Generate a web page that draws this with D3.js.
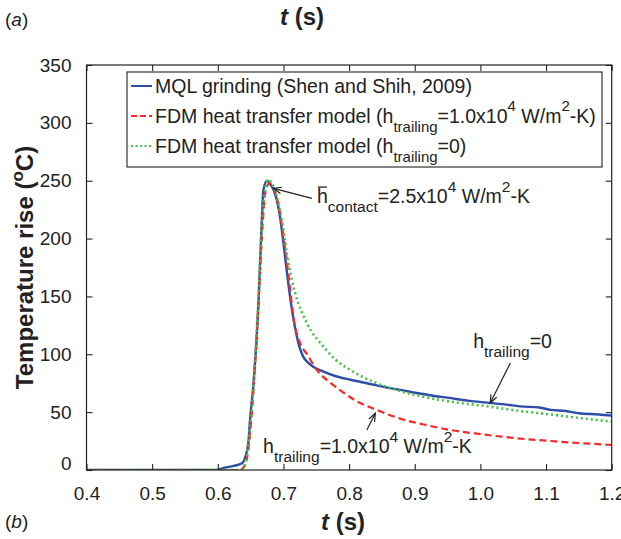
<!DOCTYPE html>
<html>
<head>
<meta charset="utf-8">
<script src="https://cdn.jsdelivr.net/npm/d3@7"></script>
<style>
  html, body { margin: 0; padding: 0; background: #fff; }
  svg { display: block; }
  text { font-family: "Liberation Sans", Arial, Helvetica, sans-serif; fill: #222; }
</style>
</head>
<body>
<svg id="chart" width="621" height="539"></svg>
<script>
// ---------------- DATA ----------------
const xTicks = [0.4, 0.5, 0.6, 0.7, 0.8, 0.9, 1.0, 1.1, 1.2];
const xTickLabels = ["0.4", "0.5", "0.6", "0.7", "0.8", "0.9", "1.0", "1.1", "1.2"];
const yTicks = [0, 50, 100, 150, 200, 250, 300, 350];
const yTickLabels = ["0", "50", "100", "150", "200", "250", "300", "350"];

// MQL grinding (Shen and Shih, 2009) - measured
const mqlTime = [0.4, 0.5, 0.598, 0.61, 0.624, 0.637, 0.642, 0.647, 0.649, 0.654, 0.662, 0.667, 0.6695, 0.675, 0.68, 0.685, 0.69, 0.695, 0.70, 0.705, 0.710, 0.718, 0.724, 0.73, 0.738, 0.746, 0.761, 0.78, 0.802, 0.827, 0.86, 0.88, 0.903, 0.93, 0.95, 0.98, 1.015, 1.04, 1.06, 1.09, 1.107, 1.13, 1.15, 1.18, 1.2];
const mqlTemp = [0, 0, 0, 2, 3.5, 5.8, 11.5, 26, 43, 72, 144, 216, 242, 250, 247, 242, 233, 218, 196, 172, 150, 122, 107, 98, 92.5, 89, 85, 81, 78, 75, 71, 69, 66.5, 64, 62.5, 60, 58, 56.5, 55, 54, 52, 51, 49, 48, 47];

// FDM model, h_trailing = 1.0e4 W/m2-K
const fdmTime = [0.4, 0.6, 0.634, 0.64, 0.645, 0.65, 0.655, 0.662, 0.668, 0.673, 0.679, 0.685, 0.692, 0.700, 0.708, 0.715, 0.7255, 0.736, 0.751, 0.77, 0.786, 0.81, 0.842, 0.88, 0.92, 0.954, 1.0, 1.056, 1.12, 1.2];
const fdmTemp = [0, 0, 0, 3, 12, 37, 75, 145, 210, 242, 248, 244, 230, 201.6, 167, 132.5, 109.5, 100, 86.4, 76, 69.1, 60, 51.9, 44, 38.5, 34.6, 31, 27.4, 24.5, 21.6];

// FDM model, h_trailing = 0
const fdm0Time = [0.4, 0.6, 0.634, 0.64, 0.642, 0.645, 0.649, 0.655, 0.662, 0.668, 0.673, 0.677, 0.683, 0.690, 0.6975, 0.7076, 0.718, 0.7357, 0.761, 0.78, 0.802, 0.842, 0.87, 0.903, 0.95, 1.015, 1.06, 1.107, 1.15, 1.2];
const fdm0Temp = [0, 0, 0, 2, 7, 17, 37, 80, 150, 220, 245, 251, 247, 236, 216, 178.6, 152.7, 126.8, 106.6, 95, 86.4, 75, 69.5, 64.5, 59.5, 54.7, 51, 48, 45, 41.8];

const seriesColors = ["#2c4ea6", "#f42a2a", "#44c044"];

// ---------------- LAYOUT ----------------
const svg = d3.select("#chart");
const pL = 86.5, pR = 611.7, pT = 65, pB = 470;
const x = d3.scaleLinear().domain([0.4, 1.2]).range([pL, pR]);
const y = d3.scaleLinear().domain([0, 350]).range([pB, pT]);

const FONT = "Liberation Sans, Arial, Helvetica, sans-serif";

function richText(g, xPos, yPos, segs, size, subSize, subDy, supDy) {
  const t = g.append("text").attr("x", xPos).attr("y", yPos)
    .style("font-size", size + "px").style("font-family", FONT);
  let cur = 0;
  segs.forEach(([s, k]) => {
    const target = k === "sub" ? subDy : (k === "sup" ? supDy : 0);
    t.append("tspan")
      .attr("dy", target - cur)
      .style("font-size", (k === "n" ? size : subSize) + "px")
      .text(s);
    cur = target;
  });
  return t;
}

svg.append("clipPath").attr("id", "clip").append("rect")
  .attr("x", pL).attr("y", pT - 2).attr("width", pR - pL).attr("height", pB - pT + 2);

const plot = svg.append("g").attr("clip-path", "url(#clip)");

const mqlData = mqlTime.map((t, i) => [t, mqlTemp[i]]);
const fdmData = fdmTime.map((t, i) => [t, fdmTemp[i]]);
const fdm0Data = fdm0Time.map((t, i) => [t, fdm0Temp[i]]);
const curveLine = d3.line().x(d => x(d[0])).y(d => y(d[1])).curve(d3.curveMonotoneX);

plot.append("path").datum(mqlData).attr("d", curveLine)
  .attr("fill", "none").attr("stroke", seriesColors[0]).attr("stroke-width", 2.4);
plot.append("path").datum(fdmData).attr("d", curveLine)
  .attr("fill", "none").attr("stroke", seriesColors[1]).attr("stroke-width", 2.2)
  .attr("stroke-dasharray", "7,4");
plot.append("path").datum(fdm0Data).attr("d", curveLine)
  .attr("fill", "none").attr("stroke", seriesColors[2]).attr("stroke-width", 2.6)
  .attr("stroke-dasharray", "2,3");

svg.append("rect").attr("x", pL).attr("y", pT).attr("width", pR - pL).attr("height", pB - pT)
  .attr("fill", "none").attr("stroke", "#222").attr("stroke-width", 1.2);

const tickLen = 6;
const xAxisB = d3.axisBottom(x).tickValues(xTicks).tickSizeInner(-tickLen).tickSizeOuter(0).tickFormat((d, i) => xTickLabels[i]).tickPadding(tickLen + 11);
const gxb = svg.append("g").attr("transform", `translate(0,${pB})`).call(xAxisB);
const xAxisT = d3.axisTop(x).tickValues(xTicks).tickSizeInner(-tickLen).tickSizeOuter(0).tickFormat("");
const gxt = svg.append("g").attr("transform", `translate(0,${pT})`).call(xAxisT);
const yAxisL = d3.axisLeft(y).tickValues(yTicks).tickSizeInner(-tickLen).tickSizeOuter(0).tickFormat((d, i) => yTickLabels[i]).tickPadding(tickLen + 9);
const gyl = svg.append("g").attr("transform", `translate(${pL},0)`).call(yAxisL);
const yAxisR = d3.axisRight(y).tickValues(yTicks).tickSizeInner(-tickLen).tickSizeOuter(0).tickFormat("");
const gyr = svg.append("g").attr("transform", `translate(${pR},0)`).call(yAxisR);

[gxb, gxt, gyl, gyr].forEach(g => {
  g.select(".domain").remove();
  g.selectAll("line").attr("stroke", "#222").attr("stroke-width", 1.1);
  g.selectAll("text").style("font-size", "19px").style("font-family", FONT).attr("fill", "#222");
});
gyl.selectAll(".tick").filter(d => d === 0).select("text").attr("dy", "-0.05em");

const xt = svg.append("text").attr("x", 343).attr("y", 530).attr("text-anchor", "middle")
  .style("font-size", "24px").style("font-weight", "bold").style("font-family", FONT);
xt.append("tspan").style("font-style", "italic").text("t");
xt.append("tspan").text(" (s)");

const xt2 = svg.append("text").attr("x", 302).attr("y", 25).attr("text-anchor", "middle")
  .style("font-size", "24px").style("font-weight", "bold").style("font-family", FONT);
xt2.append("tspan").style("font-style", "italic").text("t");
xt2.append("tspan").text(" (s)");

const yt = svg.append("text").attr("transform", `translate(33,${(pT + pB) / 2}) rotate(-90)`)
  .attr("text-anchor", "middle")
  .style("font-size", "24px").style("font-weight", "bold").style("font-family", FONT);
yt.append("tspan").text("Temperature rise (");
yt.append("tspan").attr("dy", -10).style("font-size", "17px").text("o");
yt.append("tspan").attr("dy", 10).text("C)");

const pa = svg.append("text").attr("x", 5).attr("y", 26).style("font-size", "19px").style("font-family", FONT);
pa.append("tspan").text("(");
pa.append("tspan").style("font-style", "italic").text("a");
pa.append("tspan").text(")");
const pb = svg.append("text").attr("x", 5).attr("y", 528).style("font-size", "19px").style("font-family", FONT);
pb.append("tspan").text("(");
pb.append("tspan").style("font-style", "italic").text("b");
pb.append("tspan").text(")");

const legendLabels = [
  [["MQL grinding (Shen and Shih, 2009)", "n"]],
  [["FDM heat transfer model (h", "n"], ["trailing", "sub"], ["=1.0x10", "n"], ["4", "sup"], [" W/m", "n"], ["2", "sup"], ["-K)", "n"]],
  [["FDM heat transfer model (h", "n"], ["trailing", "sub"], ["=0)", "n"]]
];
const legendDash = [null, "6,3", "2,2.5"];
const lg = svg.append("g");
lg.append("rect").attr("x", 127).attr("y", 72).attr("width", 475).attr("height", 95)
  .attr("fill", "#fff").attr("stroke", "#222").attr("stroke-width", 1.1);
const rowBase = [93, 123, 153];
legendLabels.forEach((segs, i) => {
  lg.append("line").attr("x1", 131).attr("x2", 152).attr("y1", rowBase[i] - 7).attr("y2", rowBase[i] - 7)
    .attr("stroke", seriesColors[i]).attr("stroke-width", 2)
    .attr("stroke-dasharray", legendDash[i]);
  richText(lg, 155, rowBase[i], segs, 19.5, 15, 9, -12);
});

const annContact = { text: [0.751, 230.7], tail: [0.7433, 234.8], tip: [0.6848, 243.4] };
const annH0 = { text: [0.989, 105.4], tail: [1.0456, 92.5], tip: [1.015, 57.9] };
const annH4 = { text: [0.669, 14.7], tail: [0.827, 34.6], tip: [0.84, 49] };

function arrow(a) {
  const x1 = x(a.tail[0]), y1 = y(a.tail[1]), x2 = x(a.tip[0]), y2 = y(a.tip[1]);
  const ang = Math.atan2(y2 - y1, x2 - x1);
  const L = 8, W = 3.2;
  const bx = x2 - L * Math.cos(ang), by = y2 - L * Math.sin(ang);
  svg.append("line").attr("x1", x1).attr("y1", y1).attr("x2", x2).attr("y2", y2)
    .attr("stroke", "#222").attr("stroke-width", 1.2);
  const p1 = [bx + W * Math.sin(ang), by - W * Math.cos(ang)];
  const p2 = [bx - W * Math.sin(ang), by + W * Math.cos(ang)];
  svg.append("path").attr("d", `M${p1[0]},${p1[1]}L${x2},${y2}L${p2[0]},${p2[1]}`)
    .attr("fill", "none").attr("stroke", "#222").attr("stroke-width", 1.2);
}
arrow(annContact); arrow(annH0); arrow(annH4);

richText(svg, x(annContact.text[0]), y(annContact.text[1]),
  [["h", "n"], ["contact", "sub"], ["=2.5x10", "n"], ["4", "sup"], [" W/m", "n"], ["2", "sup"], ["-K", "n"]], 19.5, 15.5, 9, -11);
svg.append("line").attr("x1", x(annContact.text[0]) + 1).attr("x2", x(annContact.text[0]) + 10)
  .attr("y1", y(annContact.text[1]) - 16).attr("y2", y(annContact.text[1]) - 16)
  .attr("stroke", "#222").attr("stroke-width", 1.3);

richText(svg, x(annH0.text[0]), y(annH0.text[1]),
  [["h", "n"], ["trailing", "sub"], ["=0", "n"]], 19.5, 15.5, 9, -11);
richText(svg, x(annH4.text[0]), y(annH4.text[1]),
  [["h", "n"], ["trailing", "sub"], ["=1.0x10", "n"], ["4", "sup"], [" W/m", "n"], ["2", "sup"], ["-K", "n"]], 19.5, 15.5, 9, -11);
</script>
</body>
</html>
